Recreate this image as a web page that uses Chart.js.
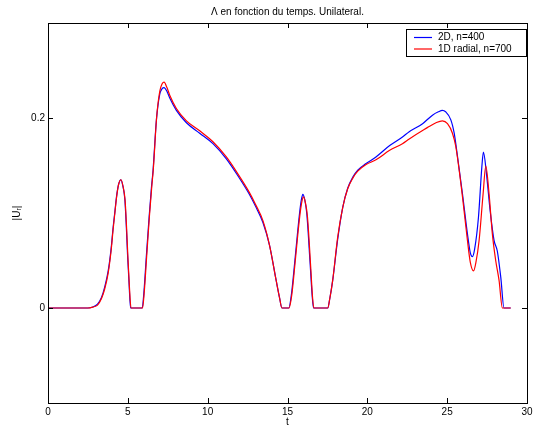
<!DOCTYPE html>
<html>
<head>
<meta charset="utf-8">
<script src="https://cdn.jsdelivr.net/npm/chart.js@4/dist/chart.umd.min.js"></script>
<style>
  html, body { margin: 0; padding: 0; background: #fff; }
  #wrap { width: 533px; height: 430px; }
</style>
</head>
<body>
<div id="wrap"><canvas id="c" width="533" height="430"></canvas></div>
<script>
const titleText = 'Λ en fonction du temps. Unilateral.';
const xLabel = 't';
const yLabel = '|Uᵣ|';
const xTicks = [0, 5, 10, 15, 20, 25, 30];
const yTicks = [0, 0.2];
const seriesNames = ['2D, n=400', '1D radial, n=700'];

const t2D = [0, 2.5, 2.8, 3.1, 3.35, 3.55, 3.77, 3.95, 4.08, 4.2, 4.29, 4.42, 4.56, 4.68, 4.81, 4.9, 4.98, 5.08, 5.17,
  5.9, 6.0, 6.17, 6.33, 6.48, 6.58, 6.79, 7.0, 7.15, 7.27, 7.45, 7.625, 8.04, 8.67, 9.5, 10.33, 11.17, 11.9, 12.6, 13.0,
  13.46, 13.875, 14.29, 14.5, 14.65, 15.08, 15.25, 15.44, 15.6, 15.75, 15.87, 15.96, 16.08, 16.21, 16.42, 16.55, 16.63,
  17.52, 17.65, 17.83, 18.14, 18.46, 18.77, 19.1, 19.4, 19.92, 20.54, 21.4, 22.2, 22.625, 23.46, 24.08, 24.45, 24.7,
  24.9, 25.23, 25.44, 25.54, 25.96, 26.27, 26.45, 26.58, 26.72, 26.96, 27.17, 27.27, 27.46, 27.69, 27.94, 28.14, 28.36, 28.56, 28.98];
const u2D = [0, 0, 0.001, 0.004, 0.011, 0.022, 0.039, 0.062, 0.085, 0.103, 0.117, 0.130, 0.135, 0.129, 0.115, 0.088, 0.057, 0.025, 0,
  0, 0.015, 0.057, 0.095, 0.127, 0.145, 0.198, 0.225, 0.231, 0.232, 0.228, 0.221, 0.208, 0.195, 0.184, 0.173, 0.157, 0.139, 0.120, 0.107,
  0.090, 0.066, 0.029, 0.011, 0, 0, 0.015, 0.046, 0.074, 0.099, 0.114, 0.1196, 0.114, 0.099, 0.046, 0.012, 0,
  0, 0.010, 0.029, 0.072, 0.106, 0.126, 0.138, 0.145, 0.152, 0.159, 0.171, 0.180, 0.1855, 0.194, 0.203, 0.2065, 0.208,
  0.2066, 0.198, 0.184, 0.173, 0.120, 0.078, 0.058, 0.054, 0.062, 0.0955, 0.148, 0.164, 0.1415, 0.1026, 0.071, 0.060, 0.032, 0, 0];

const tRad = [0, 2.5, 2.8, 3.1, 3.35, 3.55, 3.77, 3.95, 4.08, 4.2, 4.29, 4.42, 4.58, 4.7, 4.83, 4.92, 5.0, 5.1, 5.2,
  5.92, 6.02, 6.19, 6.35, 6.5, 6.6, 6.8, 7.0, 7.15, 7.27, 7.45, 7.625, 8.04, 8.67, 9.5, 10.33, 11.17, 11.9, 12.6, 13.0,
  13.46, 13.875, 14.29, 14.5, 14.65, 15.1, 15.27, 15.46, 15.62, 15.77, 15.9, 16.0, 16.12, 16.25, 16.45, 16.57, 16.65,
  17.52, 17.65, 17.83, 18.14, 18.46, 18.77, 19.1, 19.4, 19.92, 20.54, 21.4, 22.2, 22.625, 23.56, 23.875, 24.3, 24.7,
  25.02, 25.33, 25.54, 25.96, 26.27, 26.45, 26.65, 26.8, 27.0, 27.25, 27.42, 27.625, 27.83, 28.04, 28.25, 28.46, 28.98];
const uRad = [0, 0, 0.001, 0.003, 0.010, 0.020, 0.037, 0.060, 0.083, 0.102, 0.116, 0.130, 0.135, 0.128, 0.113, 0.085, 0.055, 0.022, 0,
  0, 0.015, 0.057, 0.096, 0.128, 0.147, 0.200, 0.228, 0.236, 0.2377, 0.232, 0.224, 0.210, 0.197, 0.1865, 0.175, 0.159, 0.141, 0.122, 0.109,
  0.092, 0.066, 0.029, 0.011, 0, 0, 0.014, 0.045, 0.073, 0.097, 0.112, 0.117, 0.111, 0.096, 0.044, 0.011, 0,
  0, 0.010, 0.029, 0.074, 0.106, 0.1255, 0.137, 0.144, 0.151, 0.156, 0.166, 0.173, 0.178, 0.188, 0.191, 0.195, 0.197,
  0.194, 0.184, 0.170, 0.117, 0.071, 0.048, 0.039, 0.048, 0.071, 0.120, 0.1495, 0.120, 0.078, 0.050, 0.029, 0, 0];

const FONT = 'Liberation Sans, Arial, Helvetica, sans-serif';
const toXY = (ts, us) => ts.map((t, i) => ({x: t, y: us[i]}));

const matlabFrame = {
  id: 'matlabFrame',
  afterDraw(chart) {
    const {ctx, chartArea: a, scales} = chart;
    ctx.save();
    ctx.fillStyle = '#000';
    ctx.font = '10px ' + FONT;
    ctx.textAlign = 'center';
    ctx.textBaseline = 'middle';
    ctx.fillText(titleText, (a.left + a.right) / 2, 12);
    ctx.strokeStyle = '#000';
    ctx.lineWidth = 1;
    ctx.strokeRect(Math.round(a.left) + 0.5, Math.round(a.top) + 0.5,
      Math.round(a.right - a.left), Math.round(a.bottom - a.top));
    const tl = 5;
    ctx.beginPath();
    xTicks.forEach(v => {
      const px = Math.round(scales.x.getPixelForValue(v)) + 0.5;
      ctx.moveTo(px, a.bottom); ctx.lineTo(px, a.bottom - tl);
      ctx.moveTo(px, a.top); ctx.lineTo(px, a.top + tl);
    });
    yTicks.forEach(v => {
      const py = Math.round(scales.y.getPixelForValue(v)) + 0.5;
      ctx.moveTo(a.left, py); ctx.lineTo(a.left + tl, py);
      ctx.moveTo(a.right, py); ctx.lineTo(a.right - tl, py);
    });
    ctx.stroke();
    const bx = 406.5, by = 29.5, bw = 120, bh = 27;
    ctx.fillStyle = '#fff';
    ctx.fillRect(bx, by, bw, bh);
    ctx.strokeRect(bx, by, bw, bh);
    ctx.textAlign = 'left';
    chart.data.datasets.forEach((ds, i) => {
      const y = 37.5 + i * 11.5;
      ctx.strokeStyle = ds.borderColor;
      ctx.lineWidth = 1.2;
      ctx.beginPath();
      ctx.moveTo(414, y); ctx.lineTo(432, y);
      ctx.stroke();
      ctx.fillStyle = '#000';
      ctx.fillText(ds.label, 438, y);
    });
    ctx.restore();
  }
};

new Chart(document.getElementById('c'), {
  type: 'line',
  data: {
    datasets: [
      {label: seriesNames[0], data: toXY(t2D, u2D), borderColor: '#0000ff', borderWidth: 1.2,
       pointRadius: 0, cubicInterpolationMode: 'monotone', order: 1},
      {label: seriesNames[1], data: toXY(tRad, uRad), borderColor: '#ff0000', borderWidth: 1.2,
       pointRadius: 0, cubicInterpolationMode: 'monotone', order: 0}
    ]
  },
  options: {
    responsive: false,
    animation: false,
    events: [],
    layout: {padding: {top: 23, right: 6, left: 0, bottom: 0}},
    plugins: {legend: {display: false}, title: {display: false}, tooltip: {enabled: false}},
    scales: {
      x: {
        type: 'linear', min: 0, max: 30,
        grid: {display: false, drawTicks: false}, border: {display: false},
        afterBuildTicks: s => { s.ticks = xTicks.map(v => ({value: v})); },
        afterFit: s => { s.height = 27; s.paddingLeft = 0; s.paddingRight = 0; },
        ticks: {color: '#000', font: {family: FONT, size: 10}, padding: 3, maxRotation: 0,
                callback: v => String(v)},
        title: {display: true, text: xLabel, color: '#000', font: {family: FONT, size: 10},
                padding: {top: 0, bottom: 2}}
      },
      y: {
        type: 'linear', min: -0.1, max: 0.3,
        grid: {display: false, drawTicks: false}, border: {display: false},
        afterBuildTicks: s => { s.ticks = yTicks.map(v => ({value: v})); },
        afterFit: s => { s.width = 48; s.paddingTop = 0; s.paddingBottom = 0; },
        ticks: {color: '#000', font: {family: FONT, size: 10}, padding: 3,
                callback: v => String(Math.round(v * 10) / 10)},
        title: {display: true, text: yLabel, color: '#000', font: {family: FONT, size: 10},
                padding: {top: 11, bottom: 0}}
      }
    }
  },
  plugins: [matlabFrame]
});
</script>
</body>
</html>
